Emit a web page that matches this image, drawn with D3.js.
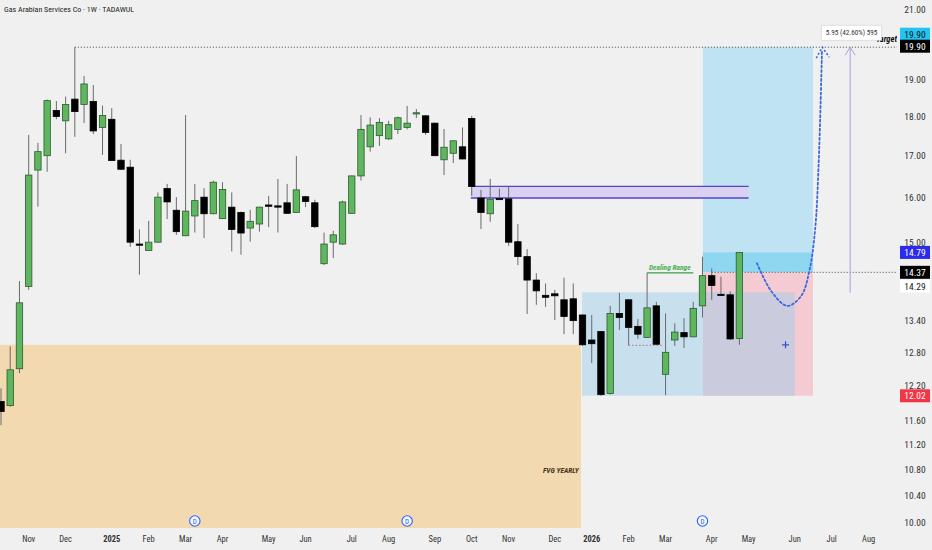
<!DOCTYPE html>
<html>
<head>
<meta charset="utf-8">
<script src="https://cdn.jsdelivr.net/npm/d3@7"></script>
<style>
  html, body { margin: 0; padding: 0; background: #f0f0f0; }
  svg { display: block; font-family: "Liberation Sans Narrow", "Roboto Condensed", Roboto, sans-serif; }
</style>
</head>
<body>
<svg id="chart" width="932" height="550"></svg>
<script>
// weekly candles, one per bar index (0 = first visible bar)
var opens  = [11.92,11.85,12.50,14.08,16.66,17.01,18.16,17.89,18.46,18.32,
              18.40,17.72,17.93,16.90,16.73,14.97,14.83,15.01,16.22,15.72,
              15.15,15.59,16.02,15.64,15.53,15.79,15.67,15.32,15.41,15.84,
              15.82,15.89,15.67,16.03,15.89,14.55,15.01,14.97,15.65,16.52,
              17.23,17.51,17.43,17.67,17.72,18.07,18.02,17.83,16.91,17.07,
              17.23,17.95,16.00,15.64,15.99,15.98,15.02,14.70,14.21,13.90,
              13.93,13.81,13.83,13.51,13.03,13.19,12.06,13.54,13.81,13.29,
              13.08,13.69,12.40,13.03,13.17,13.09,13.69,14.30,13.92,13.91,
              13.06];
var highs  = [12.15,12.91,14.19,17.53,17.33,18.45,18.41,18.53,19.90,19.09,
              18.84,18.29,18.22,17.30,16.91,15.29,15.48,16.13,16.33,16.02,
              18.04,16.33,16.23,16.41,16.37,16.13,15.69,15.73,15.80,16.05,
              16.45,16.33,17.00,16.05,15.96,15.22,15.26,15.94,16.53,18.04,
              17.98,17.96,17.89,18.00,18.28,18.20,18.04,17.84,17.68,17.39,
              17.72,18.02,16.19,16.45,16.22,16.27,15.41,14.86,14.35,14.14,
              14.01,14.26,14.14,13.52,13.51,13.20,13.69,13.95,13.82,13.43,
              14.36,13.77,13.54,13.35,13.45,13.77,14.70,14.45,14.28,13.98,
              14.79];
var lows   = [11.52,11.83,12.42,14.01,15.80,16.62,17.93,17.07,17.48,17.83,
              17.55,17.03,16.88,16.67,14.91,14.32,14.82,15.00,15.52,15.17,
              15.15,15.22,15.10,15.63,15.52,14.81,14.74,15.02,15.24,15.34,
              15.22,15.64,15.66,15.79,15.32,14.52,14.67,14.95,15.64,16.41,
              17.11,17.25,17.40,17.55,17.67,17.96,17.53,17.00,16.54,16.83,
              16.92,16.05,15.30,15.46,15.97,14.93,14.52,13.53,13.71,13.67,
              13.41,13.14,13.14,12.92,12.60,12.02,12.04,13.22,12.93,13.05,
              13.07,12.94,12.03,12.92,12.88,13.08,13.46,13.81,13.89,13.03,
              12.94];
var closes = [11.75,12.48,13.75,16.54,17.11,18.42,18.00,18.32,18.13,18.87,
              17.63,18.03,16.89,16.68,15.01,14.95,15.01,16.02,15.91,15.24,
              15.70,15.94,15.64,16.37,16.20,15.29,15.21,15.47,15.79,15.81,
              15.79,15.65,16.19,15.92,15.35,14.97,15.17,15.91,16.52,17.67,
              17.78,17.85,17.79,17.97,17.83,18.10,17.59,17.01,17.22,17.38,
              16.93,16.27,15.67,15.97,15.98,15.01,14.70,14.21,13.99,13.86,
              13.89,13.48,13.40,12.94,12.96,12.04,13.54,13.46,13.27,13.14,
              13.65,12.95,12.80,13.18,13.09,13.64,14.30,14.10,13.91,13.05,
              14.79];

// time axis labels and the bar index they sit on
var monthLabels = ["Nov","Dec","2025","Feb","Mar","Apr","May","Jun","Jul","Aug","Sep","Oct","Nov","Dec","2026","Feb","Mar","Apr","May","Jun","Jul","Aug"];
var monthBars   = [3,7,12,16,20,24,29,33,38,42,47,51,55,60,64,68,72,77,81,86,90,94];

var priceTicks = [21, 19, 18, 17, 16, 15, 13.4, 12.8, 12.2, 11.6, 11.2, 10.8, 10.4, 10];
var dividendBars = [21, 44, 76];

// price labels on the right scale
var labelPrices = [19.90, 19.90, 14.79, 14.37, 14.29, 12.02];
var labelFills  = ["#22c4f2", "#000000", "#2a2af0", "#000000", "#ffffff", "#f23645"];
var labelInk    = ["#111111", "#ffffff", "#ffffff", "#ffffff", "#222222", "#ffffff"];
var labelShift  = [-13, -1, 0, 0, 10, 0];

// levels
var targetPrice = 19.90, entryPrice = 14.37, stopPrice = 12.02, lastPrice = 14.79;
var fvgTop = 12.94;
var rangeTop = 13.96, rangeBottom = 12.02, rangeLow = 12.93, rangeHigh = 14.36;
var zoneTop = 16.27, zoneBottom = 16.00;
var measureFrom = 13.95;

// projected path (bar index, price)
var pathBars   = [81.9, 83.5, 85.2, 86.7, 87.6, 88.2, 88.6, 88.95];
var pathPrices = [14.56, 13.97, 13.69, 13.89, 14.42, 15.28, 16.9, 19.82];

//SETUP
var W = 932, H = 550, plotW = 897, plotH = 528;
var svg = d3.select("#chart");

var x = d3.scaleLinear().domain([0, 80]).range([1, 739.4]);
var y = d3.scaleLog().domain([10, 21]).range([523, 10]);

svg.append("rect").attr("width", W).attr("height", H).attr("fill", "#f0f0f0");

svg.append("defs").append("clipPath").attr("id", "plotClip")
  .append("rect").attr("width", plotW).attr("height", plotH);

var plot = svg.append("g").attr("clip-path", "url(#plotClip)");

function box(i0, i1, pTop, pBot, fill){
  return plot.append("rect")
    .attr("x", x(i0)).attr("width", x(i1) - x(i0))
    .attr("y", y(pTop)).attr("height", y(pBot) - y(pTop))
    .attr("fill", fill);
}

//ZONES
// yearly FVG
plot.append("rect")
  .attr("x", 0).attr("width", x(62.83))
  .attr("y", y(fvgTop)).attr("height", plotH - y(fvgTop))
  .attr("fill", "#f3d9b0");

plot.append("text")
  .attr("x", x(62.6)).attr("y", y(10.8) + 3)
  .attr("text-anchor", "end")
  .attr("font-size", 7.5).attr("font-style", "italic").attr("font-weight", "bold")
  .attr("fill", "#4a3518")
  .text("FVG YEARLY");

// long position tool
box(76.05, 87.97, targetPrice, entryPrice, "#bfe3f3");
box(76.05, 87.97, lastPrice, entryPrice, "#8fd6f0");
box(76.05, 87.97, entryPrice, stopPrice, "#f4cbd2");

// dealing range box
box(62.95, 86.0, rangeTop, rangeBottom, "rgba(150,205,235,0.45)");

// supply zone
box(50.9, 81.0, zoneTop, zoneBottom, "#d9d0f2");
[zoneTop, zoneBottom].forEach(function(p){
  plot.append("line")
    .attr("x1", x(50.9)).attr("x2", x(81.0))
    .attr("y1", y(p)).attr("y2", y(p))
    .attr("stroke", "#5446c6").attr("stroke-width", 1.3);
});

// dotted levels
plot.append("line")
  .attr("x1", x(8)).attr("x2", plotW)
  .attr("y1", y(targetPrice)).attr("y2", y(targetPrice))
  .attr("stroke", "#444").attr("stroke-dasharray", "1,2");
plot.append("line")
  .attr("x1", x(77)).attr("x2", plotW)
  .attr("y1", y(entryPrice)).attr("y2", y(entryPrice))
  .attr("stroke", "#444").attr("stroke-dasharray", "1,2");
plot.append("line")
  .attr("x1", x(68)).attr("x2", x(71.7))
  .attr("y1", y(rangeLow)).attr("y2", y(rangeLow))
  .attr("stroke", "#c77aa3").attr("stroke-width", 1.2).attr("stroke-dasharray", "1.5,2");

//CANDLES
var bars = opens.map(function(o, i){
  return {i: i, o: o, h: highs[i], l: lows[i], c: closes[i]};
});

plot.selectAll("line.wick").data(bars).join("line")
  .attr("class", "wick")
  .attr("x1", d => x(d.i)).attr("x2", d => x(d.i))
  .attr("y1", d => y(d.h)).attr("y2", d => y(d.l))
  .attr("stroke", "#6a6a6a").attr("stroke-width", 1);

plot.selectAll("rect.body").data(bars).join("rect")
  .attr("class", "body")
  .attr("x", d => x(d.i) - 3.2).attr("width", 6.4)
  .attr("y", d => y(Math.max(d.o, d.c)))
  .attr("height", d => Math.max(1.2, y(Math.min(d.o, d.c)) - y(Math.max(d.o, d.c))))
  .attr("fill", d => d.c >= d.o ? "#5eb75e" : "#000")
  .attr("stroke", d => d.c >= d.o ? "#2e5a2e" : "#000")
  .attr("stroke-width", 0.8);

// dealing range marker
plot.append("line")
  .attr("x1", x(70)).attr("x2", x(75))
  .attr("y1", y(rangeHigh)).attr("y2", y(rangeHigh))
  .attr("stroke", "#3e9a48").attr("stroke-width", 1.2);
plot.append("text")
  .attr("x", x(70.2)).attr("y", y(rangeHigh) - 3)
  .attr("font-size", 7.5).attr("font-style", "italic").attr("font-weight", "bold")
  .attr("fill", "#4caf50")
  .text("Dealing Range");

// projected path
var pathPts = pathBars.map((b, i) => [x(b), y(pathPrices[i])]);
plot.append("path")
  .attr("d", d3.line().curve(d3.curveCatmullRom)(pathPts))
  .attr("fill", "none").attr("stroke", "#3c68dc").attr("stroke-width", 1.8)
  .attr("stroke-dasharray", "2,2.5").attr("stroke-linecap", "round");
var tip = [x(88.98), y(targetPrice)];
plot.append("path")
  .attr("d", "M" + (tip[0] - 6) + "," + (tip[1] + 11) + "L" + tip[0] + "," + tip[1] + "L" + (tip[0] + 7) + "," + (tip[1] + 10))
  .attr("fill", "none").attr("stroke", "#3c68dc").attr("stroke-width", 1.6)
  .attr("stroke-dasharray", "2,2");

// target text (partly under measure label)
plot.append("text")
  .attr("x", plotW).attr("y", y(targetPrice) - 5)
  .attr("text-anchor", "end")
  .attr("font-size", 8.5).attr("font-style", "italic").attr("font-weight", "bold")
  .attr("fill", "#111")
  .text("Target");

// measure tool
var mx = x(92);
plot.append("line")
  .attr("x1", mx).attr("x2", mx)
  .attr("y1", y(measureFrom)).attr("y2", y(targetPrice))
  .attr("stroke", "#a3a3e0").attr("stroke-width", 1);
plot.append("path")
  .attr("d", "M" + (mx - 5) + "," + (y(targetPrice) + 8) + "L" + mx + "," + y(targetPrice) + "L" + (mx + 5) + "," + (y(targetPrice) + 8))
  .attr("fill", "none").attr("stroke", "#a3a3e0");
var ml = plot.append("g").attr("transform", "translate(" + x(88.9) + "," + (y(targetPrice) - 22) + ")");
ml.append("rect").attr("width", 60).attr("height", 15)
  .attr("fill", "#fff").attr("stroke", "#d0d0d0").attr("stroke-width", 0.6);
ml.append("text").attr("x", 30).attr("y", 10.2).attr("text-anchor", "middle")
  .attr("font-size", 7.2).attr("fill", "#333")
  .text("5.95 (42.60%) 595");

// cross marker
var cx = x(85), cy = y(fvgTop);
plot.append("path")
  .attr("d", "M" + (cx - 3.5) + "," + cy + "H" + (cx + 3.5) + "M" + cx + "," + (cy - 3.5) + "V" + (cy + 3.5))
  .attr("stroke", "#3b55d0").attr("stroke-width", 1.3);

// dividend markers
var divs = plot.selectAll("g.div").data(dividendBars).join("g")
  .attr("class", "div")
  .attr("transform", d => "translate(" + x(d) + "," + (y(10) - 2) + ")");
divs.append("circle").attr("r", 5.2).attr("fill", "#f7f7ff")
  .attr("stroke", "#2962ff").attr("stroke-width", 1.1);
divs.append("text").attr("y", 2.5).attr("text-anchor", "middle")
  .attr("font-size", 7).attr("fill", "#2962ff").text("D");

//AXES
svg.append("text")
  .attr("x", 4).attr("y", 12)
  .attr("font-size", 8).attr("fill", "#222")
  .text("Gas Arabian Services Co · 1W · TADAWUL");

svg.append("g").selectAll("text").data(priceTicks).join("text")
  .attr("x", 915).attr("y", d => y(d)).attr("dy", "0.35em")
  .attr("text-anchor", "middle")
  .attr("font-size", 9.5).attr("fill", "#333")
  .text(d => d3.format(".2f")(d));

svg.append("g").selectAll("text").data(monthLabels).join("text")
  .attr("x", (d, i) => x(monthBars[i])).attr("y", 542)
  .attr("text-anchor", "middle")
  .attr("font-size", 8.5)
  .attr("font-weight", d => /^\d+$/.test(d) ? "bold" : "normal")
  .attr("fill", "#333")
  .text(d => d);

var tags = svg.append("g").selectAll("g").data(labelPrices).join("g")
  .attr("transform", (d, i) => "translate(900," + (y(d) + labelShift[i]) + ")");
tags.append("rect")
  .attr("y", -6.5).attr("width", 30).attr("height", 13)
  .attr("fill", (d, i) => labelFills[i]);
tags.append("text")
  .attr("x", 15).attr("dy", "0.35em").attr("text-anchor", "middle")
  .attr("font-size", 9.5).attr("fill", (d, i) => labelInk[i])
  .text(d => d3.format(".2f")(d));
</script>
</body>
</html>
